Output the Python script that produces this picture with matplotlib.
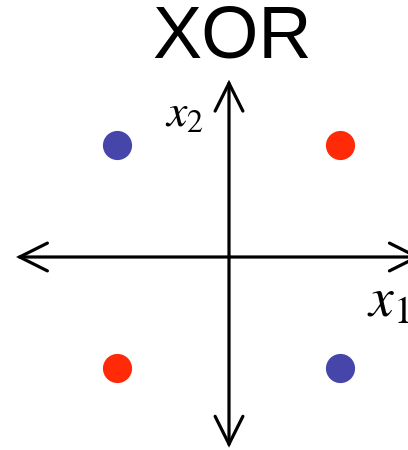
import matplotlib
matplotlib.use("Agg")
import matplotlib.pyplot as plt
from matplotlib.patches import FancyArrowPatch

plt.rcParams['mathtext.fontset'] = 'stix'

# XOR inputs and classes
x1 = [-1, 1, -1, 1]
x2 = [1, 1, -1, -1]
label = [0, 1, 1, 0]
colors = {0: '#4646aa', 1: '#ff2a08'}

fig = plt.figure(figsize=(4.08, 4.5), dpi=100)
ax = fig.add_axes([0, 0, 1, 1])
unit = 111.5
cx, cy = 229, 257
ax.set_xlim(-cx / unit, (408 - cx) / unit)
ax.set_ylim(-(450 - cy) / unit, cy / unit)
ax.axis('off')

for a, b in [((-1.91, 0), (1.72, 0)), ((0, -1.71), (0, 1.59))]:
    arr = FancyArrowPatch(a, b, arrowstyle='<->,head_length=20,head_width=10',
                          mutation_scale=1, lw=2.3, color='black',
                          shrinkA=0, shrinkB=0, joinstyle='miter')
    ax.add_patch(arr)

ax.scatter(x1, x2, s=21 ** 2, c=[colors[l] for l in label], zorder=3,
           linewidths=0)

fig.text(232 / 408, 1 - 38 / 450, 'XOR', ha='center', va='center',
         fontsize=53, family='Liberation Sans')
fig.text(165 / 408, 1 - 113 / 450, '$x_2$', ha='left', va='center', fontsize=33)
fig.text(367 / 408, 1 - 301 / 450, '$x_1$', ha='left', va='center', fontsize=40)

fig.savefig('out.png', dpi=100)
